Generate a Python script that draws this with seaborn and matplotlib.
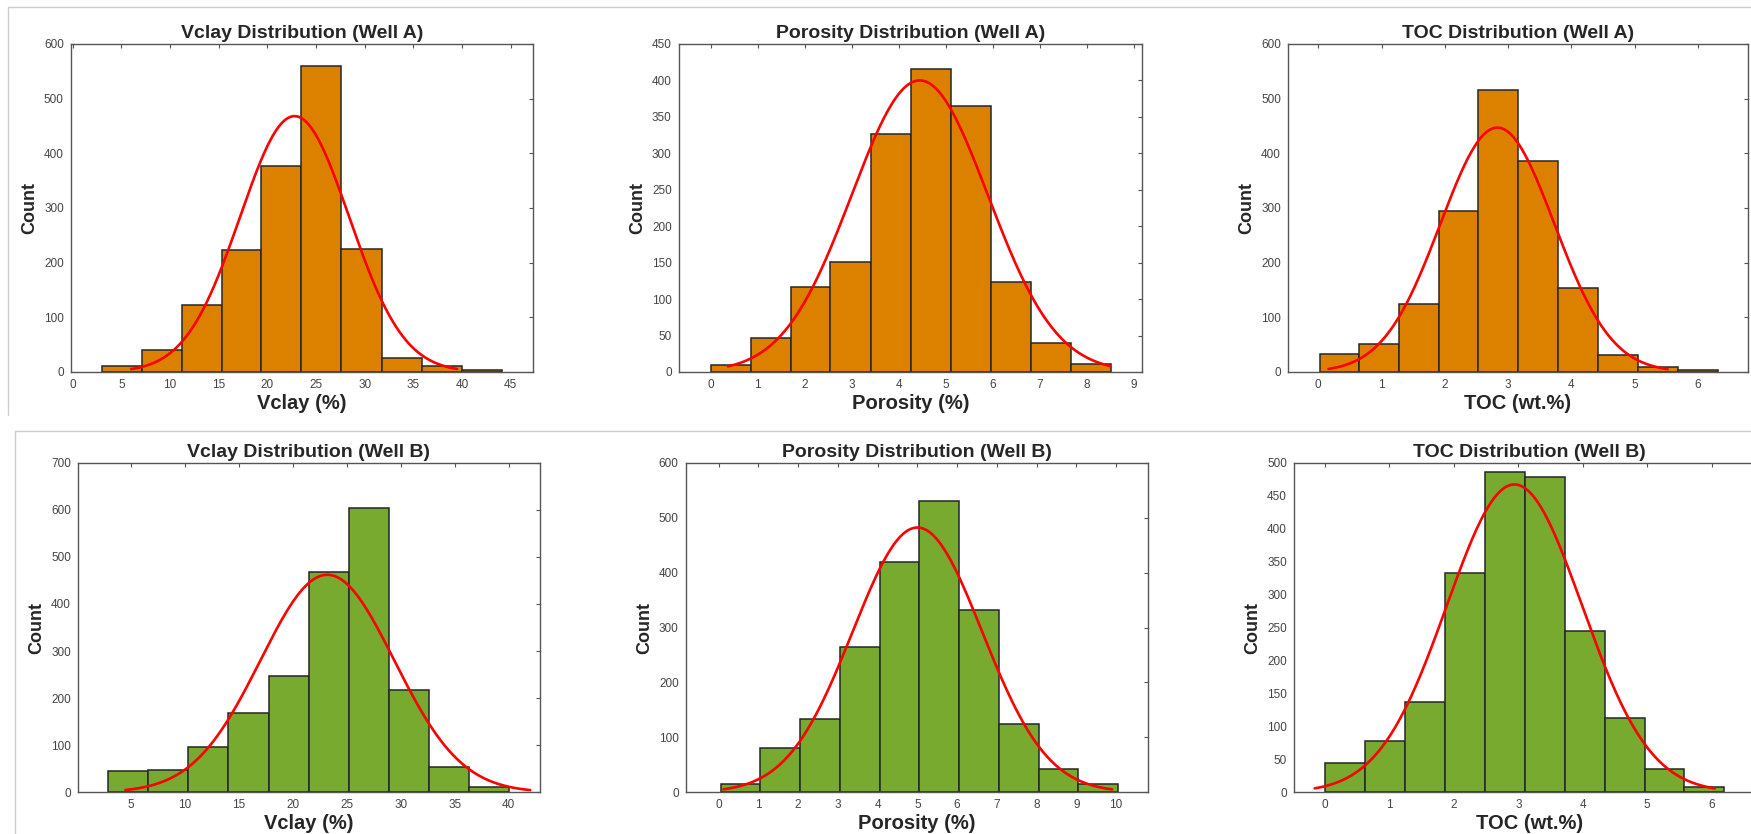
import seaborn as sns
import matplotlib
matplotlib.use('Agg')
import matplotlib.pyplot as plt
import matplotlib.ticker as ticker
from matplotlib.lines import Line2D
import numpy as np
import pandas as pd


ORANGE = '#DC8000'
GREEN = '#77AA2E'

# ---- Well A ----
vclay_a_edges = [3.0, 7.1, 11.2, 15.3, 19.4, 23.5, 27.6, 31.8, 35.9, 40.0, 44.1]
vclay_a_counts = [10, 40, 123, 224, 377, 560, 225, 25, 10, 3]
vclay_a_fit = (22.8, 5.6, 468, 6.0, 39.5)  # mu, sigma, peak, x from, x to

poro_a_edges = [0.0, 0.85, 1.70, 2.55, 3.41, 4.26, 5.11, 5.96, 6.81, 7.66, 8.52]
poro_a_counts = [9, 46, 117, 151, 326, 415, 365, 123, 40, 11]
poro_a_fit = (4.45, 1.45, 400, 0.37, 8.5)

toc_a_edges = [0.02, 0.65, 1.28, 1.90, 2.53, 3.16, 3.79, 4.42, 5.05, 5.68, 6.31]
toc_a_counts = [33, 51, 125, 294, 516, 385, 153, 31, 9, 3]
toc_a_fit = (2.83, 0.9, 447, 0.16, 5.52)

# ---- Well B ----
vclay_b_edges = [2.9, 6.6, 10.3, 14.0, 17.8, 21.5, 25.2, 28.9, 32.6, 36.3, 40.0]
vclay_b_counts = [46, 48, 96, 168, 248, 468, 603, 217, 54, 11]
vclay_b_fit = (23.2, 6.2, 462, 4.5, 42.0)

poro_b_edges = [0.05, 1.05, 2.05, 3.05, 4.05, 5.05, 6.05, 7.05, 8.05, 9.05, 10.05]
poro_b_counts = [16, 80, 134, 265, 419, 531, 331, 124, 43, 15]
poro_b_fit = (5.0, 1.63, 482, 0.12, 9.9)

toc_b_edges = [0.0, 0.62, 1.24, 1.86, 2.48, 3.10, 3.72, 4.34, 4.96, 5.58, 6.20]
toc_b_counts = [44, 78, 137, 332, 486, 478, 244, 113, 35, 8]
toc_b_fit = (2.94, 1.05, 467, -0.16, 6.05)

panels = [
    # title, xlabel, edges, counts, fit, color, xlim, xticks, ylim, ystep, axes rect
    ('Vclay Distribution (Well A)', 'Vclay (%)', vclay_a_edges, vclay_a_counts,
     vclay_a_fit, ORANGE, (-0.2, 47.3), np.arange(0, 46, 5), 600, 100,
     [0.0404, 0.554, 0.2640, 0.3933]),
    ('Porosity Distribution (Well A)', 'Porosity (%)', poro_a_edges, poro_a_counts,
     poro_a_fit, ORANGE, (-0.68, 9.18), np.arange(0, 10, 1), 450, 50,
     [0.3876, 0.554, 0.2646, 0.3933]),
    ('TOC Distribution (Well A)', 'TOC (wt.%)', toc_a_edges, toc_a_counts,
     toc_a_fit, ORANGE, (-0.48, 6.79), np.arange(0, 7, 1), 600, 100,
     [0.7355, 0.554, 0.2628, 0.3933]),
    ('Vclay Distribution (Well B)', 'Vclay (%)', vclay_b_edges, vclay_b_counts,
     vclay_b_fit, GREEN, (0.1, 42.9), np.arange(5, 41, 5), 700, 100,
     [0.0445, 0.050, 0.2639, 0.3952]),
    ('Porosity Distribution (Well B)', 'Porosity (%)', poro_b_edges, poro_b_counts,
     poro_b_fit, GREEN, (-0.83, 10.81), np.arange(0, 11, 1), 600, 100,
     [0.3916, 0.050, 0.2642, 0.3952]),
    # this one runs past the right edge of the screenshot
    ('TOC Distribution (Well B)', 'TOC (wt.%)', toc_b_edges, toc_b_counts,
     toc_b_fit, GREEN, (-0.485, 6.83), np.arange(0, 7, 1), 500, 50,
     [0.7389, 0.050, 0.2691, 0.3952]),
]


def make_hist(ax, title, xlabel, edges, counts, fit, color, xlim, xticks,
              ymax, ystep):
    """Histogram of binned counts with a normal fit curve on top

    """
    e = np.array(edges)
    df = pd.DataFrame({'value': (e[:-1] + e[1:]) / 2., 'count': counts})
    sns.histplot(data=df, x='value', weights='count', bins=list(edges),
                 color=color, alpha=1.0, edgecolor='#262626', linewidth=1.1,
                 ax=ax)

    mu, sigma, peak, x0, x1 = fit
    xs = np.linspace(x0, x1, 300)
    ys = peak * np.exp(-(xs - mu) ** 2 / (2 * sigma ** 2))
    sns.lineplot(x=xs, y=ys, color='red', linewidth=1.9, ax=ax)

    ax.set(xlim=xlim, ylim=(0, ymax))
    ax.set_xticks(xticks)
    ax.yaxis.set_major_locator(ticker.MultipleLocator(ystep))
    ax.tick_params(direction='in', length=3, width=0.8, colors='#555555',
                   labelcolor='#444444', labelsize=8.5, pad=5,
                   top=True, right=True)
    for s in ax.spines.values():
        s.set_visible(True)
        s.set_color('#555555')
        s.set_linewidth(1.0)
    ax.set_title(title, fontsize=14, fontweight='bold', pad=4)
    ax.set_xlabel(xlabel, fontsize=14.5, fontweight='bold', labelpad=2)
    ax.set_ylabel('Count', fontsize=13, fontweight='bold', labelpad=4)


if __name__ == '__main__':

    sns.set_style('white')
    plt.rcParams['font.family'] = ['Liberation Sans', 'DejaVu Sans']

    f = plt.figure(figsize=(17.51, 8.34), dpi=100)

    for (title, xlabel, edges, counts, fit, color, xlim, xticks, ymax, ystep,
         rect) in panels:
        ax = f.add_axes(rect)
        make_hist(ax, title, xlabel, edges, counts, fit, color, xlim, xticks,
                  ymax, ystep)

    # screenshot frame lines
    W, H = 1751., 834.
    grey = '#cccccc'
    f.add_artist(Line2D([8 / W, 1.0], [1 - 7 / H, 1 - 7 / H], color=grey, lw=1))
    f.add_artist(Line2D([8 / W, 8 / W], [1 - 7 / H, 1 - 415 / H], color=grey, lw=1))
    f.add_artist(Line2D([15 / W, 1.0], [1 - 431 / H, 1 - 431 / H], color=grey, lw=1))
    f.add_artist(Line2D([15 / W, 15 / W], [1 - 431 / H, 0], color=grey, lw=1))

    f.savefig('out.png', dpi=100)
